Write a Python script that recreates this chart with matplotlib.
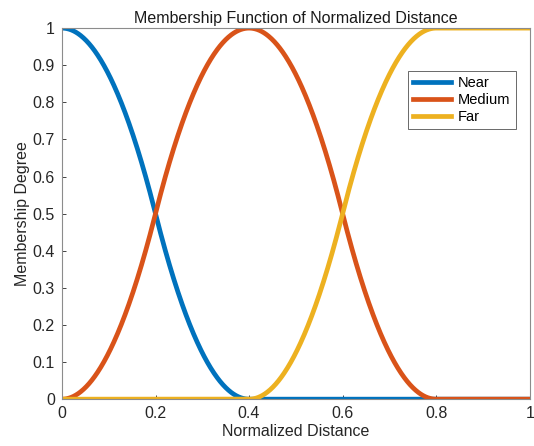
import numpy as np
import matplotlib.pyplot as plt

plt.rcParams['font.family'] = ['Liberation Sans', 'DejaVu Sans']

# membership function breakpoints (spline-based z / pi / s shapes)
near_params = [0.0, 0.4]            # zmf: a, b
medium_params = [0.0, 0.4, 0.4, 0.8]  # pimf: a, b, c, d
far_params = [0.4, 0.8]             # smf: a, b

labels = ['Near', 'Medium', 'Far']
colors = ['#0072BD', '#D95319', '#EDB120']
x_ticks = [0, 0.2, 0.4, 0.6, 0.8, 1]
y_ticks = [0, 0.1, 0.2, 0.3, 0.4, 0.5, 0.6, 0.7, 0.8, 0.9, 1]


def smf(x, a, b):
    m = (a + b) / 2
    y = np.zeros_like(x)
    t = (x - a) / (b - a)
    y = np.where(x <= a, 0, y)
    y = np.where((x > a) & (x <= m), 2 * t**2, y)
    y = np.where((x > m) & (x < b), 1 - 2 * (1 - t)**2, y)
    y = np.where(x >= b, 1, y)
    return y


def zmf(x, a, b):
    return 1 - smf(x, a, b)


def pimf(x, a, b, c, d):
    return np.minimum(smf(x, a, b), zmf(x, c, d))


x = np.linspace(0, 1, 1001)
curves = [zmf(x, *near_params), pimf(x, *medium_params), smf(x, *far_params)]

fig = plt.figure(figsize=(5.34, 4.46), dpi=100)
ax = fig.add_axes([0.116, 0.105, 0.876, 0.832])

for y, lab, c in zip(curves, labels, colors):
    ax.plot(x, y, color=c, linewidth=3.4, label=lab)

ax.set_xlim(0, 1)
ax.set_ylim(0, 1)
ax.set_xticks(x_ticks)
ax.set_xticklabels(['0', '0.2', '0.4', '0.6', '0.8', '1'])
ax.set_yticks(y_ticks)
ax.set_yticklabels(['0', '0.1', '0.2', '0.3', '0.4', '0.5', '0.6', '0.7', '0.8', '0.9', '1'])
ax.tick_params(direction='in', length=3, width=0.6, colors='#262626', labelsize=11.5, pad=5)
for s in ax.spines.values():
    s.set_color('#8c8c8c')
    s.set_linewidth(0.8)

ax.set_title('Membership Function of Normalized Distance', fontsize=11.5, color='#1a1a1a', pad=4)
ax.set_xlabel('Normalized Distance', fontsize=11.5, color='#262626', labelpad=2)
ax.set_ylabel('Membership Degree', fontsize=11.5, color='#262626', labelpad=2)

leg = ax.legend(loc='upper right', bbox_to_anchor=(0.97, 0.885), fontsize=10.5,
                frameon=True, fancybox=False, handlelength=2.6, borderpad=0.35,
                labelspacing=0.2, handletextpad=0.5, borderaxespad=0)
leg.get_frame().set_edgecolor('#262626')
leg.get_frame().set_linewidth(0.6)

fig.savefig('out.png', dpi=100)
